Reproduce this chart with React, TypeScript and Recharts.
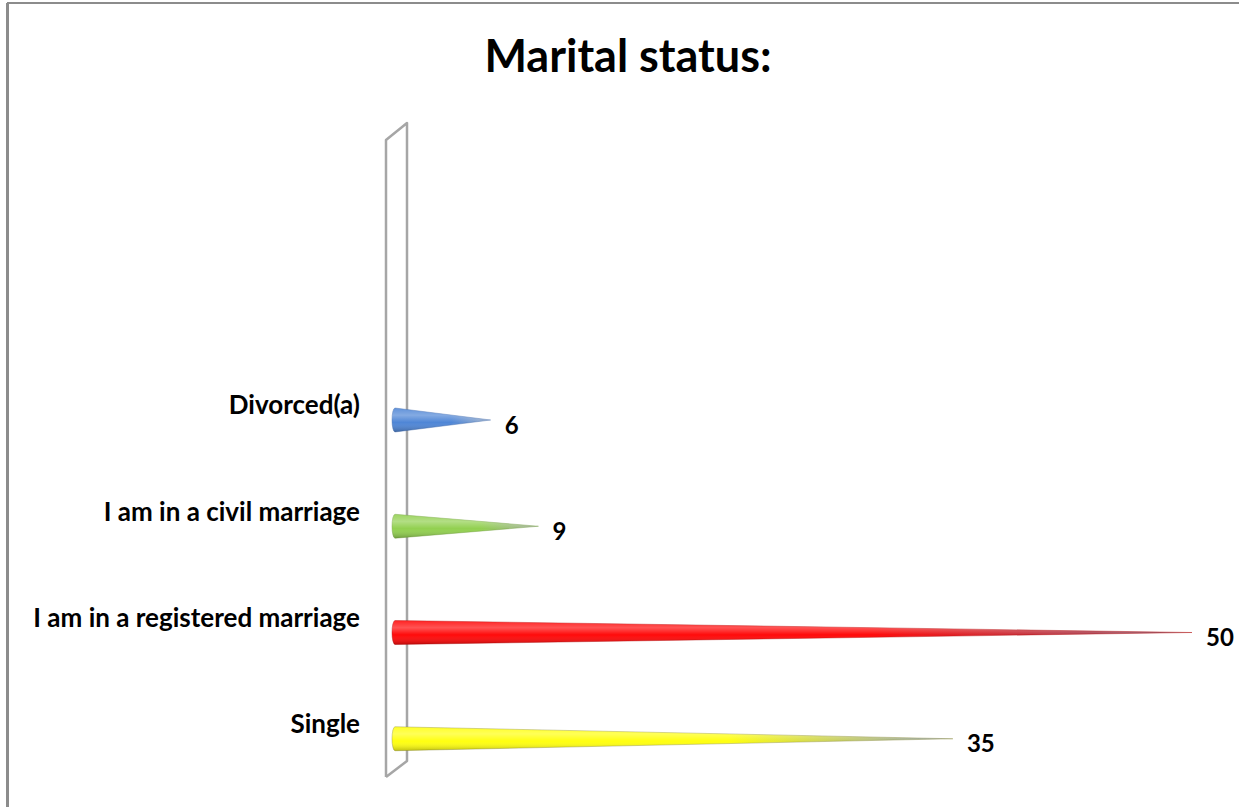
import React from 'react';
import { BarChart, Bar, XAxis, YAxis, LabelList, Cell } from 'recharts';

const categories = ['Divorced(a)', 'I am in a civil marriage', 'I am in a registered marriage', 'Single'];
const values = [6, 9, 50, 35];
const baseColors = ['#4f86d6', '#92d050', '#ff0a0a', '#ffff10'];
const tipColors = ['#9fb2cc', '#a6b0a0', '#8a5a70', '#8d9cb4'];
const edgeColors = ['#3a64a8', '#6e9c3a', '#b00000', '#8a8a3a'];

const data = categories.map((name, i) => ({ name, value: values[i] }));

const FONT = 'Lato, "Open Sans", sans-serif';

const Cone = (props: any) => {
  const { x, y, width, height, index } = props;
  const cy = y + height / 2;
  const r = height / 2;
  const id = `cone-${index}`;
  const d = `M ${x} ${cy - r} L ${x + width} ${cy} L ${x} ${cy + r} A 3 ${r} 0 0 1 ${x} ${cy - r} Z`;
  return (
    <g>
      <defs>
        <linearGradient id={`${id}-h`} x1="0" y1="0" x2="1" y2="0">
          <stop offset="0" stopColor={baseColors[index]} />
          <stop offset="0.6" stopColor={baseColors[index]} />
          <stop offset="1" stopColor={tipColors[index]} />
        </linearGradient>
        <linearGradient id={`${id}-v`} x1="0" y1="0" x2="0" y2="1">
          <stop offset="0" stopColor="#ffffff" stopOpacity="0.1" />
          <stop offset="0.3" stopColor="#ffffff" stopOpacity="0.3" />
          <stop offset="0.6" stopColor="#ffffff" stopOpacity="0" />
          <stop offset="1" stopColor="#000000" stopOpacity="0.25" />
        </linearGradient>
      </defs>
      <path d={d} fill={`url(#${id}-h)`} stroke={edgeColors[index]} strokeOpacity={0.5} strokeWidth={0.8} />
      <path d={d} fill={`url(#${id}-v)`} stroke="none" />
    </g>
  );
};

const CategoryTick = (props: any) => {
  const { x, y, payload } = props;
  return (
    <text x={x} y={y - 15} dy="0.36em" textAnchor="end" fontFamily={FONT} fontWeight={700} fontSize={26} fill="#000">
      {payload.value}
    </text>
  );
};

const ValueLabel = (props: any) => {
  const { x, y, width, height, value } = props;
  return (
    <text x={x + width + 14} y={y + height / 2 + 5} dy="0.36em" textAnchor="start" fontFamily={FONT} fontWeight={700} fontSize={24} fill="#000">
      {value}
    </text>
  );
};

export default function App() {
  return (
    <div style={{ position: 'absolute', left: 0, top: 0, width: 1239, height: 807, background: '#fff', overflow: 'hidden' }}>
      <svg width={1239} height={807} style={{ position: 'absolute', left: 0, top: 0 }}>
        <line x1={7} y1={3} x2={1239} y2={3} stroke="#8c8c8c" strokeWidth={2} />
        <line x1={7.5} y1={3} x2={7.5} y2={807} stroke="#8c8c8c" strokeWidth={3} />
        <text x={628} y={72} textAnchor="middle" fontFamily={FONT} fontWeight={700} fontSize={45} fill="#000">
          Marital status:
        </text>
        <polyline points="386,777 386,140 407,123 407,761 386,777" fill="none" stroke="#a6a6a6" strokeWidth={2.5} strokeLinejoin="round" />
      </svg>
      <div style={{ position: 'absolute', left: 0, top: 0 }}>
        <BarChart
          width={1239}
          height={807}
          data={data}
          layout="vertical"
          margin={{ top: 367, right: 47, bottom: 15, left: 0 }}
        >
          <XAxis type="number" domain={[0, 50]} hide />
          <YAxis
            type="category"
            dataKey="name"
            width={395}
            axisLine={false}
            tickLine={false}
            tickSize={0}
            tickMargin={35}
            tick={<CategoryTick />}
            interval={0}
          />
          <Bar dataKey="value" barSize={24} shape={<Cone />} isAnimationActive={false}>
            {data.map((d, i) => (
              <Cell key={d.name} fill={baseColors[i]} />
            ))}
            <LabelList dataKey="value" content={<ValueLabel />} />
          </Bar>
        </BarChart>
      </div>
    </div>
  );
}
